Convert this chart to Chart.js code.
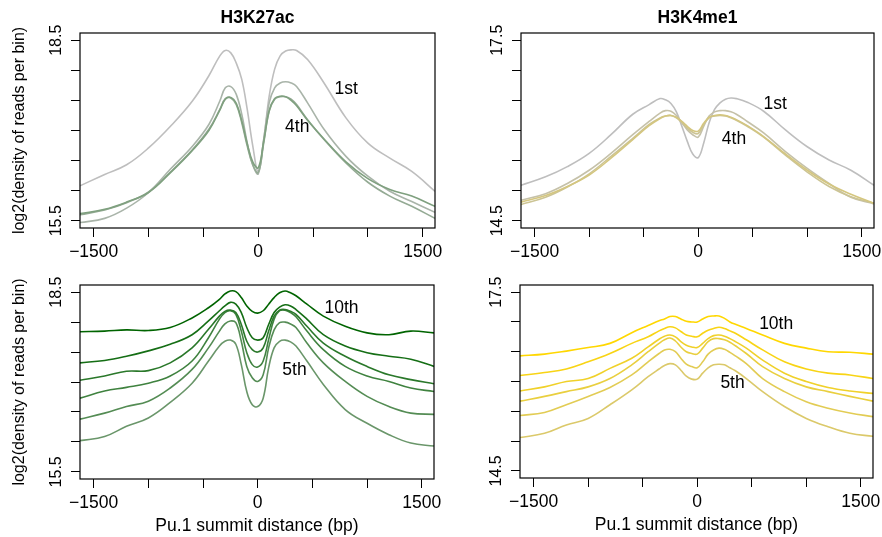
<!DOCTYPE html>
<html>
<head>
<meta charset="utf-8">
<title>H3K27ac / H3K4me1 around Pu.1 summits</title>
<script src="https://cdn.jsdelivr.net/npm/chart.js@4.4.1/dist/chart.umd.min.js"></script>
<style>
  body { margin: 0; background: #fff; }
  #wrap { position: relative; width: 882px; height: 537px; }
  #wrap canvas { position: absolute; left: 0; top: 0; }
</style>
</head>
<body>
<div id="wrap">
  <canvas id="k27acTop" width="882" height="537"></canvas>
  <canvas id="k4me1Top" width="882" height="537"></canvas>
  <canvas id="k27acBottom" width="882" height="537"></canvas>
  <canvas id="k4me1Bottom" width="882" height="537"></canvas>
</div>
<script>
// Distance from the Pu.1 summit (bp), shared by every profile
const distance = [-1625, -1400, -1200, -1000, -800, -600, -450, -350, -300, -250, -200, -150, -100, -50, 0,
  50, 100, 150, 200, 250, 300, 350, 450, 600, 800, 1000, 1200, 1400, 1612];

const xTicks = [-1500, -1000, -500, 0, 500, 1000, 1500];
const xTickLabels = ['\u22121500', '', '', '0', '', '', '1500'];

const k27acTicks = [15.5, 16, 16.5, 17, 17.5, 18, 18.5];
const k27acTickLabels = ['15.5', '', '', '', '', '', '18.5'];
const k4me1Ticks = [14.5, 15, 15.5, 16, 16.5, 17, 17.5];
const k4me1TickLabels = ['14.5', '', '', '', '', '', '17.5'];

// H3K27ac, deciles 1-4
const k27acD1 = [16.08, 16.27, 16.43, 16.71, 17.07, 17.49, 17.91, 18.24, 18.33, 18.29, 18.12, 17.85, 17.35, 16.75, 16.32,
  16.85, 17.57, 18.02, 18.24, 18.32, 18.34, 18.33, 18.18, 17.79, 17.21, 16.79, 16.54, 16.32, 15.99];
const k27acD2 = [15.47, 15.54, 15.71, 15.97, 16.36, 16.74, 17.1, 17.49, 17.71, 17.73, 17.6, 17.27, 16.79, 16.43, 16.28,
  16.85, 17.46, 17.71, 17.79, 17.81, 17.79, 17.73, 17.46, 17.02, 16.57, 16.24, 15.99, 15.82, 15.64];
const k27acD3 = [15.6, 15.68, 15.8, 15.98, 16.31, 16.68, 17.02, 17.35, 17.53, 17.54, 17.43, 17.13, 16.74, 16.43, 16.3,
  16.79, 17.32, 17.52, 17.56, 17.56, 17.52, 17.43, 17.18, 16.85, 16.46, 16.14, 15.91, 15.74, 15.54];
const k27acD4 = [15.62, 15.69, 15.81, 15.97, 16.3, 16.67, 17.0, 17.34, 17.52, 17.55, 17.45, 17.16, 16.78, 16.48, 16.38,
  16.82, 17.33, 17.53, 17.57, 17.56, 17.5, 17.41, 17.17, 16.86, 16.48, 16.2, 16.02, 15.91, 15.74];

// H3K27ac, deciles 5-10
const k27acD5 = [16.02, 16.09, 16.26, 16.4, 16.66, 16.98, 17.35, 17.6, 17.68, 17.7, 17.63, 17.29, 16.84, 16.62, 16.59,
  16.73, 17.24, 17.57, 17.68, 17.7, 17.67, 17.6, 17.35, 16.96, 16.54, 16.31, 16.12, 15.98, 15.93];
const k27acD6 = [16.38, 16.48, 16.59, 16.68, 16.9, 17.21, 17.57, 17.85, 17.97, 18.02, 17.99, 17.68, 17.26, 17.07, 17.01,
  17.12, 17.57, 17.87, 17.99, 18.0, 17.97, 17.91, 17.65, 17.32, 17.01, 16.76, 16.59, 16.48, 16.46];
const k27acD7 = [16.73, 16.85, 16.91, 16.98, 17.1, 17.35, 17.74, 18.05, 18.16, 18.19, 18.13, 17.85, 17.49, 17.29, 17.25,
  17.35, 17.71, 18.05, 18.19, 18.2, 18.16, 18.09, 17.85, 17.54, 17.26, 17.1, 17.01, 16.9, 16.84];
const k27acD8 = [17.03, 17.1, 17.18, 17.19, 17.32, 17.57, 17.88, 18.1, 18.18, 18.2, 18.16, 17.96, 17.68, 17.54, 17.5,
  17.57, 17.85, 18.1, 18.2, 18.21, 18.18, 18.13, 17.93, 17.65, 17.43, 17.26, 17.12, 17.04, 16.97];
const k27acD9 = [17.32, 17.36, 17.43, 17.52, 17.63, 17.79, 18.02, 18.19, 18.27, 18.33, 18.3, 18.16, 17.91, 17.74, 17.7,
  17.74, 17.96, 18.16, 18.25, 18.29, 18.27, 18.21, 18.05, 17.79, 17.6, 17.49, 17.43, 17.38, 17.26];
const k27acD10 = [17.84, 17.85, 17.87, 17.86, 17.91, 18.07, 18.24, 18.38, 18.47, 18.52, 18.51, 18.41, 18.27, 18.18, 18.15,
  18.19, 18.3, 18.41, 18.49, 18.52, 18.49, 18.44, 18.3, 18.1, 17.93, 17.82, 17.79, 17.85, 17.82];

// H3K4me1, deciles 1-4
const k4me1D1 = [15.09, 15.23, 15.4, 15.62, 15.93, 16.27, 16.43, 16.53, 16.51, 16.45, 16.31, 16.07, 15.82, 15.61, 15.55,
  15.79, 16.13, 16.35, 16.46, 16.52, 16.54, 16.53, 16.47, 16.32, 16.01, 15.73, 15.51, 15.34, 15.09];
const k4me1D2 = [14.84, 14.95, 15.12, 15.34, 15.62, 15.93, 16.15, 16.29, 16.33, 16.32, 16.25, 16.13, 16.01, 15.93, 15.89,
  16.07, 16.24, 16.31, 16.33, 16.33, 16.31, 16.27, 16.15, 15.96, 15.65, 15.37, 15.12, 14.89, 14.78];
const k4me1D3 = [14.77, 14.89, 15.06, 15.28, 15.57, 15.87, 16.1, 16.21, 16.24, 16.25, 16.21, 16.13, 16.04, 15.97, 15.95,
  16.1, 16.21, 16.24, 16.25, 16.24, 16.21, 16.17, 16.07, 15.89, 15.59, 15.31, 15.07, 14.9, 14.79];
const k4me1D4 = [14.81, 14.92, 15.07, 15.26, 15.54, 15.85, 16.08, 16.2, 16.24, 16.25, 16.22, 16.15, 16.07, 16.0, 15.99,
  16.12, 16.22, 16.25, 16.26, 16.25, 16.22, 16.18, 16.08, 15.9, 15.61, 15.34, 15.11, 14.94, 14.79];

// H3K4me1, deciles 5-10
const k4me1D5 = [15.06, 15.13, 15.27, 15.38, 15.61, 15.86, 16.08, 16.21, 16.27, 16.3, 16.28, 16.19, 16.09, 16.04, 16.04,
  16.14, 16.23, 16.28, 16.29, 16.28, 16.23, 16.18, 16.05, 15.83, 15.58, 15.38, 15.24, 15.13, 15.08];
const k4me1D6 = [15.43, 15.48, 15.61, 15.75, 15.9, 16.11, 16.33, 16.47, 16.53, 16.54, 16.5, 16.39, 16.29, 16.25, 16.23,
  16.33, 16.46, 16.53, 16.56, 16.54, 16.49, 16.43, 16.3, 16.05, 15.83, 15.66, 15.55, 15.47, 15.41];
const k4me1D7 = [15.67, 15.75, 15.83, 15.91, 16.05, 16.28, 16.5, 16.64, 16.7, 16.73, 16.68, 16.58, 16.5, 16.47, 16.46,
  16.56, 16.67, 16.72, 16.72, 16.7, 16.66, 16.6, 16.47, 16.25, 16.05, 15.91, 15.83, 15.75, 15.67];
const k4me1D8 = [15.84, 15.91, 16.0, 16.05, 16.22, 16.39, 16.58, 16.71, 16.76, 16.78, 16.75, 16.67, 16.61, 16.58, 16.57,
  16.64, 16.72, 16.77, 16.78, 16.76, 16.72, 16.67, 16.56, 16.36, 16.14, 16.0, 15.9, 15.84, 15.8];
const k4me1D9 = [16.1, 16.15, 16.21, 16.33, 16.47, 16.64, 16.75, 16.85, 16.89, 16.92, 16.9, 16.84, 16.78, 16.76, 16.75,
  16.81, 16.86, 16.89, 16.91, 16.89, 16.85, 16.81, 16.7, 16.53, 16.33, 16.21, 16.14, 16.11, 16.05];
const k4me1D10 = [16.43, 16.46, 16.51, 16.57, 16.64, 16.82, 16.94, 17.02, 17.05, 17.09, 17.09, 17.05, 17.01, 17.0, 17.0,
  17.05, 17.09, 17.1, 17.1, 17.06, 17.0, 16.96, 16.89, 16.78, 16.64, 16.56, 16.5, 16.49, 16.46];

// gray -> darkgreen and gray -> gold, 10 steps each
const greenRamp = ['#BEBEBE', '#A9B4A9', '#94AA94', '#7FA07F', '#6A966A', '#548C54', '#3F823F', '#2A782A', '#156E15', '#006400'];
const goldRamp = ['#BEBEBE', '#C5C1A9', '#CCC494', '#D4C67F', '#DBC96A', '#E2CC54', '#E9CF3F', '#F0D12A', '#F8D415', '#FFD700'];

const FONT = "'Liberation Sans', Arial, Helvetica, sans-serif";
const WIDE = 17.5; // horizontal text runs a bit larger than the rotated axis text
Chart.defaults.font.family = FONT;
Chart.defaults.font.size = 16;
Chart.defaults.color = '#000';

// Box around the plot region, panel heading and decile labels
const panelDecor = {
  id: 'panelDecor',
  afterDraw(chart, args, opts) {
    const { ctx, chartArea: a, scales } = chart;
    ctx.save();
    ctx.strokeStyle = '#000';
    ctx.lineWidth = 1.2;
    ctx.strokeRect(a.left, a.top, a.right - a.left, a.bottom - a.top);
    ctx.fillStyle = '#000';
    ctx.textAlign = 'center';
    ctx.textBaseline = 'middle';
    if (opts.heading) {
      ctx.font = 'bold ' + WIDE + 'px ' + FONT;
      ctx.fillText(opts.heading, (a.left + a.right) / 2, 18);
    }
    ctx.font = WIDE + 'px ' + FONT;
    (opts.notes || []).forEach(n => {
      ctx.fillText(n.text, scales.x.getPixelForValue(n.x), scales.y.getPixelForValue(n.y));
    });
    ctx.restore();
  }
};

function renderPanel(id, p) {
  const ctx = document.getElementById(id).getContext('2d');
  const axisH = p.xTitle ? 58 : 32;

  const datasets = p.series.map((s, i) => ({
    data: distance.map((d, j) => ({ x: d, y: s[j] })),
    borderColor: p.colors[i],
    borderWidth: 1.6,
    pointRadius: 0,
    fill: false,
    tension: 0.4,
    order: p.series.length - i
  }));

  const tickGrid = { drawOnChartArea: false, drawTicks: true, tickLength: 9, color: '#000', lineWidth: 1 };

  return new Chart(ctx, {
    type: 'line',
    data: { datasets },
    options: {
      responsive: false,
      animation: false,
      events: [],
      layout: {
        padding: { left: p.box.left - 80, right: 882 - p.box.right, top: p.box.top, bottom: 537 - p.box.bottom - axisH }
      },
      plugins: {
        legend: { display: false },
        tooltip: { enabled: false },
        panelDecor: { heading: p.heading, notes: p.notes }
      },
      scales: {
        x: {
          type: 'linear',
          min: -1625,
          max: 1612,
          afterBuildTicks: s => { s.ticks = xTicks.map(v => ({ value: v })); },
          afterFit: s => { s.height = axisH; s.paddingLeft = 0; s.paddingRight = 0; },
          grid: tickGrid,
          border: { display: false },
          ticks: {
            autoSkip: false, minRotation: 0, maxRotation: 0, padding: 5, font: { size: WIDE },
            callback: (v, i) => xTickLabels[i]
          },
          title: { display: !!p.xTitle, text: p.xTitle, font: { size: WIDE }, padding: { top: 0, bottom: 0 } }
        },
        y: {
          type: 'linear',
          min: p.yRange[0],
          max: p.yRange[1],
          afterBuildTicks: s => { s.ticks = p.yTicks.map(v => ({ value: v })); },
          afterFit: s => { s.width = 80; s.paddingTop = 0; s.paddingBottom = 0; },
          grid: tickGrid,
          border: { display: false },
          ticks: {
            autoSkip: false, minRotation: 90, maxRotation: 90, crossAlign: 'center', padding: -1.5,
            callback: (v, i) => p.yTickLabels[i]
          },
          title: { display: !!p.yTitle, text: p.yTitle, padding: { top: 10, bottom: 0 } }
        }
      }
    },
    plugins: [panelDecor]
  });
}

const yTitle = 'log2(density of reads per bin)';

renderPanel('k27acTop', {
  box: { left: 80, right: 435, top: 33, bottom: 228 },
  yRange: [15.38, 18.62], yTicks: k27acTicks, yTickLabels: k27acTickLabels,
  series: [k27acD1, k27acD2, k27acD3, k27acD4], colors: greenRamp.slice(0, 4),
  heading: 'H3K27ac', yTitle,
  notes: [{ text: '1st', x: 803, y: 17.69 }, { text: '4th', x: 356, y: 17.05 }]
});

renderPanel('k4me1Top', {
  box: { left: 521, right: 874, top: 33, bottom: 228 },
  yRange: [14.38, 17.62], yTicks: k4me1Ticks, yTickLabels: k4me1TickLabels,
  series: [k4me1D1, k4me1D2, k4me1D3, k4me1D4], colors: goldRamp.slice(0, 4),
  heading: 'H3K4me1',
  notes: [{ text: '1st', x: 706, y: 16.44 }, { text: '4th', x: 328, y: 15.86 }]
});

renderPanel('k27acBottom', {
  box: { left: 80, right: 434, top: 285, bottom: 479 },
  yRange: [15.38, 18.62], yTicks: k27acTicks, yTickLabels: k27acTickLabels,
  series: [k27acD5, k27acD6, k27acD7, k27acD8, k27acD9, k27acD10], colors: greenRamp.slice(4),
  yTitle, xTitle: 'Pu.1 summit distance (bp)',
  notes: [{ text: '10th', x: 766, y: 18.23 }, { text: '5th', x: 336, y: 17.19 }]
});

renderPanel('k4me1Bottom', {
  box: { left: 520, right: 873, top: 285, bottom: 478 },
  yRange: [14.38, 17.62], yTicks: k4me1Ticks, yTickLabels: k4me1TickLabels,
  series: [k4me1D5, k4me1D6, k4me1D7, k4me1D8, k4me1D9, k4me1D10], colors: goldRamp.slice(4),
  xTitle: 'Pu.1 summit distance (bp)',
  notes: [{ text: '10th', x: 724, y: 16.96 }, { text: '5th', x: 324, y: 15.97 }]
});
</script>
</body>
</html>
